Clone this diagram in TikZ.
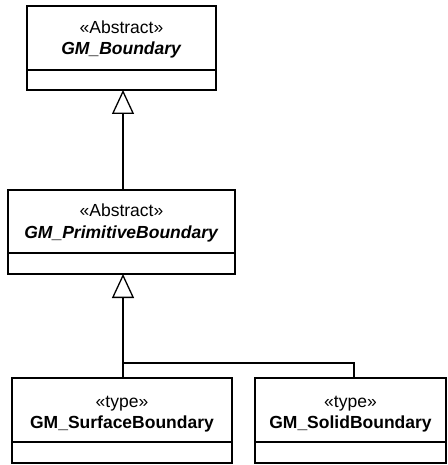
\documentclass[tikz,border=0pt]{standalone}
\usepackage{fontspec}
\setmainfont{Liberation Sans}
\usetikzlibrary{arrows.meta,positioning}
\begin{document}
\begin{tikzpicture}[x=1pt,y=-1pt,
  classhead/.style={draw, line width=1.3pt, rectangle, inner sep=0pt, outer sep=0pt},
  classcomp/.style={draw, line width=1.3pt, rectangle, inner sep=0pt, outer sep=0pt},
  classtext/.style={inner sep=0pt, align=center, font=\fontsize{17.5}{21.5}\selectfont},
  gen/.style={line width=1.3pt, -{Triangle[open, width=22pt, length=24pt, fill=white]}},
  link/.style={line width=1.3pt}]
\useasboundingbox (0,0) rectangle (447,465);
% GM_Boundary
\node[classhead, minimum width=189pt, minimum height=64pt] (b1) at (121.5,38) {};
\node[classcomp, minimum width=189pt, minimum height=20pt, below=0pt of b1] (b1c) {};
\node[classtext, yshift=-1.5pt] (t1) at (b1.center)
  {«Abstract»\\\textbf{\textit{GM\_Boundary}}};
% GM_PrimitiveBoundary
\node[classhead, minimum width=227pt, minimum height=63pt] (b2) at (121.5,221.5) {};
\node[classcomp, minimum width=227pt, minimum height=21pt, below=0pt of b2] (b2c) {};
\node[classtext, yshift=-1.5pt] (t2) at (b2.center)
  {«Abstract»\\\textbf{\textit{GM\_PrimitiveBoundary}}};
% GM_SurfaceBoundary
\node[classhead, minimum width=220pt, minimum height=64pt] (b3) at (122,410) {};
\node[classcomp, minimum width=220pt, minimum height=21pt, below=0pt of b3] (b3c) {};
\node[classtext, yshift=-4pt] (t3) at (b3.center)
  {«type»\\\textbf{GM\_SurfaceBoundary}};
% GM_SolidBoundary
\node[classhead, minimum width=191pt, minimum height=64pt] (b4) at (350.5,410) {};
\node[classcomp, minimum width=191pt, minimum height=21pt, below=0pt of b4] (b4c) {};
\node[classtext, yshift=-4pt] (t4) at (b4.center)
  {«type»\\\textbf{GM\_SolidBoundary}};
% generalisations
\coordinate (j) at (123,363);
\coordinate (s3) at (123,378);
\coordinate (s4) at (354,378);
\draw[gen] (b2.north -| j) -- (b1c.south -| j);
\draw[link] (s3) -- (j) -| (s4);
\draw[gen] (j) -- (b2c.south -| j);
\end{tikzpicture}
\end{document}
